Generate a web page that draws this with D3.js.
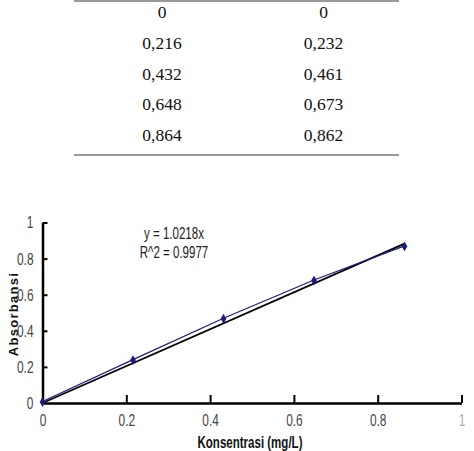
<!DOCTYPE html>
<html><head><meta charset="utf-8">
<script src="https://cdn.jsdelivr.net/npm/d3@7"></script>
<style>html,body{margin:0;padding:0;background:#fff;}</style>
</head><body>
<svg id="c" width="474" height="451"></svg>
<script>
const concentration = [0, 0.216, 0.432, 0.648, 0.864];
const absorbance = [0, 0.232, 0.461, 0.673, 0.862];
const tableCol1 = ["0", "0,216", "0,432", "0,648", "0,864"];
const tableCol2 = ["0", "0,232", "0,461", "0,673", "0,862"];
const slope = 1.0218;
const xTicks = [0, 0.2, 0.4, 0.6, 0.8, 1];
const yTicks = [0, 0.2, 0.4, 0.6, 0.8, 1];
const eqLines = ["y = 1.0218x", "R^2 = 0.9977"];

const svg = d3.select("#c");

function condense(sel, k) {
  sel.each(function () {
    const L = this.getComputedTextLength();
    this.setAttribute("textLength", L * k);
    this.setAttribute("lengthAdjust", "spacingAndGlyphs");
  });
}

// table
const tbl = svg.append("g");
tbl.append("line").attr("x1",74).attr("x2",399).attr("y1",1).attr("y2",1).attr("stroke","#999").attr("stroke-width",2);
tbl.append("line").attr("x1",74).attr("x2",399).attr("y1",155).attr("y2",155).attr("stroke","#999").attr("stroke-width",2);
const rowY = d3.scaleLinear().domain([0,4]).range([12,135]);
[tableCol1, tableCol2].forEach((col, ci) => {
  tbl.selectAll(null).data(col).enter().append("text")
    .attr("x", ci === 0 ? 162 : 323.5)
    .attr("y", (d,i) => rowY(i))
    .attr("dy", "0.35em")
    .attr("text-anchor","middle")
    .attr("font-family","Liberation Serif, Times New Roman, serif")
    .attr("font-size", 17.5)
    .attr("fill","#111")
    .text(d => d);
});

// chart
const x = d3.scaleLinear().domain([0,1]).range([42.5, 461.5]);
const y = d3.scaleLinear().domain([0,1]).range([403, 222.5]);
const fnt = "Liberation Sans, Arial, sans-serif";

const gx = svg.append("g").attr("transform","translate(0,403)")
  .call(d3.axisBottom(x).tickValues(xTicks).tickSize(-8).tickSizeOuter(0).tickPadding(11).tickFormat(d3.format("")));
const gy = svg.append("g").attr("transform","translate(42.5,0)")
  .call(d3.axisLeft(y).tickValues(yTicks).tickSize(-5).tickSizeOuter(0).tickPadding(9).tickFormat(d3.format("")));
[gx, gy].forEach(g => {
  g.select(".domain").attr("stroke","#000").attr("stroke-width",2.5);
  g.selectAll(".tick line").attr("stroke","#000").attr("stroke-width",2);
  g.selectAll(".tick text").attr("font-family",fnt).attr("font-size",17).attr("fill","#444");
  condense(g.selectAll(".tick text"), 0.7);
});
gx.selectAll(".tick text").filter(d => d === 1).attr("fill","#aab");
gy.selectAll(".tick line").filter(d => d === 0).remove();
gx.selectAll(".tick line").filter(d => d === 0).remove();

// trendline
const xLast = concentration[concentration.length-1];
svg.append("line")
  .attr("x1", x(0)).attr("y1", y(0))
  .attr("x2", x(xLast)).attr("y2", y(slope*xLast))
  .attr("stroke","#000").attr("stroke-width",1.8);

// data series
const navy = "#1c1c80";
svg.append("path").datum(concentration.map((c,i)=>[c,absorbance[i]]))
  .attr("fill","none").attr("stroke",navy).attr("stroke-width",1.2)
  .attr("transform","translate(0,-1.5)")
  .attr("d", d3.line().x(d=>x(d[0])).y(d=>y(d[1])));
svg.selectAll(null).data(concentration).enter().append("path")
  .attr("d", d3.symbol().type(d3.symbolDiamond).size(28))
  .attr("transform",(d,i)=>`translate(${x(d)},${y(absorbance[i])-1})`)
  .attr("fill",navy);

// equation
const eq = svg.selectAll(null).data(eqLines).enter().append("text")
  .attr("x",174).attr("y",(d,i)=>233+i*19).attr("dy","0.35em")
  .attr("text-anchor","middle").attr("font-family",fnt).attr("font-size",16).attr("fill","#222")
  .text(d=>d);
condense(eq, 0.72);

// axis titles
const xt = svg.append("text").attr("x",250).attr("y",442).attr("dy","0.35em").attr("text-anchor","middle")
  .attr("font-family",fnt).attr("font-weight","bold").attr("font-size",16).attr("fill","#111")
  .text("Konsentrasi (mg/L)");
condense(xt, 0.72);
svg.append("text").attr("transform","translate(13,314) rotate(-90)").attr("dy","0.35em").attr("text-anchor","middle")
  .attr("font-family",fnt).attr("font-weight","bold").attr("font-size",13).attr("letter-spacing","1.3px").attr("fill","#111")
  .text("Absorbansi");
</script>
</body></html>
